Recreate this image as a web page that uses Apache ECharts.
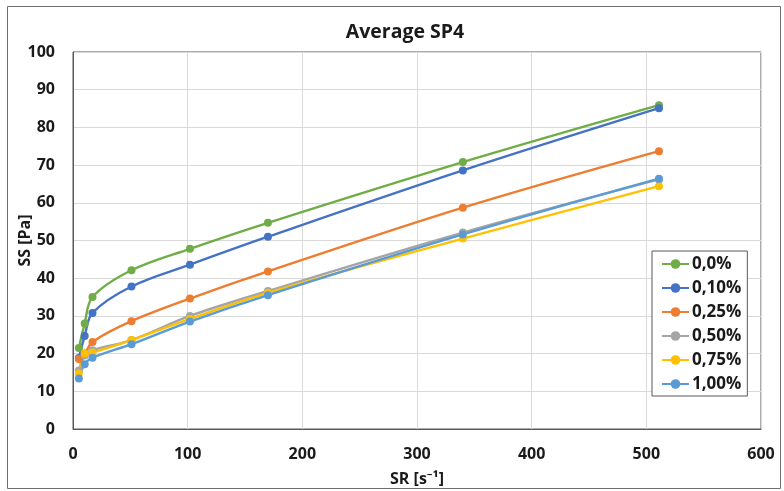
<!DOCTYPE html>
<html>
<head>
<meta charset="utf-8">
<script src="https://cdn.jsdelivr.net/npm/echarts@6/dist/echarts.min.js"></script>
<style>
  html, body { margin: 0; padding: 0; background: #fff; }
  #chart { width: 784px; height: 491px; }
</style>
</head>
<body>
<div id="chart"></div>
<script>
// Shear rate (s^-1) at each measuring point
const shearRate = [5.1, 10.2, 17, 51, 102, 170, 340, 511];

// Average shear stress (Pa) for each additive concentration
const ss_0_0 = [21.5, 28.0, 35.0, 42.1, 47.8, 54.7, 70.8, 85.9];
const ss_0_10 = [18.8, 24.7, 30.8, 37.8, 43.6, 51.0, 68.6, 85.1];
const ss_0_25 = [18.6, 20.0, 23.1, 28.6, 34.6, 41.8, 58.7, 73.7];
const ss_0_50 = [15.5, 19.5, 20.9, 23.6, 30.0, 36.6, 52.1, 66.2];
const ss_0_75 = [14.7, 20.0, 20.3, 23.6, 29.2, 36.1, 50.5, 64.4];
const ss_1_00 = [13.4, 17.2, 18.9, 22.5, 28.5, 35.5, 51.6, 66.4];

const seriesNames = ['0,0%', '0,10%', '0,25%', '0,50%', '0,75%', '1,00%'];
const seriesValues = [ss_0_0, ss_0_10, ss_0_25, ss_0_50, ss_0_75, ss_1_00];
const seriesColors = ['#70ad47', '#4472c4', '#ed7d31', '#a5a5a5', '#ffc000', '#5b9bd5'];

const FONT = '"Open Sans", "Noto Sans", sans-serif';
const TXT = '#1a1a1a';

const chart = echarts.init(document.getElementById('chart'), null, { renderer: 'canvas' });

chart.setOption({
  animation: false,
  backgroundColor: '#ffffff',
  title: {
    text: 'Average SP4',
    left: 400,
    top: 17,
    textAlign: 'center',
    textStyle: { fontFamily: FONT, fontWeight: 'bold', fontSize: 19.5, color: TXT }
  },
  graphic: [{
    type: 'rect',
    shape: { x: 7.5, y: 6.5, width: 773, height: 482 },
    style: { fill: 'none', stroke: '#6f6f6f', lineWidth: 1 },
    silent: true
  }],
  grid: {
    left: 73, right: 23, top: 52, bottom: 62,
    outerBoundsMode: 'none',
    containLabel: false,
    show: true, borderColor: '#595959', borderWidth: 1
  },
  legend: {
    orient: 'vertical',
    left: 652, top: 251,
    padding: [4, 6, 3, 9],
    borderColor: '#595959', borderWidth: 1,
    backgroundColor: '#fff',
    itemWidth: 27, itemHeight: 12, itemGap: 6,
    textStyle: { fontFamily: FONT, fontWeight: 'bold', fontSize: 17, lineHeight: 18, color: TXT, padding: [0, 0, 0, -2] },
    data: seriesNames
  },
  xAxis: {
    type: 'value',
    min: 0, max: 600, interval: 100,
    name: 'SR [s\u207B\u00B9]',
    nameLocation: 'middle',
    nameGap: 42,
    nameTextStyle: { fontFamily: FONT, fontWeight: 'bold', fontSize: 16, color: TXT },
    axisLine: { show: true, lineStyle: { color: '#595959' } },
    axisTick: { show: false },
    axisLabel: { fontFamily: FONT, fontWeight: 'bold', fontSize: 16, color: TXT, margin: 17 },
    splitLine: { show: true, lineStyle: { color: '#d9d9d9' } }
  },
  yAxis: {
    type: 'value',
    min: 0, max: 100, interval: 10,
    name: 'SS [Pa]',
    nameLocation: 'middle',
    nameMoveOverlap: false,
    nameGap: 40,
    nameTextStyle: { fontFamily: FONT, fontWeight: 'bold', fontSize: 16, color: TXT },
    axisLine: { show: true, lineStyle: { color: '#595959' } },
    axisTick: { show: false },
    axisLabel: { fontFamily: FONT, fontWeight: 'bold', fontSize: 16, color: TXT, margin: 18 },
    splitLine: { show: true, lineStyle: { color: '#d9d9d9' } }
  },
  series: seriesNames.map((name, i) => ({
    name: name,
    type: 'line',
    smooth: 0.35,
    symbol: 'circle',
    symbolSize: 8,
    color: seriesColors[i],
    lineStyle: { width: 2.4, color: seriesColors[i] },
    itemStyle: { color: seriesColors[i] },
    data: shearRate.map((x, k) => [x, seriesValues[i][k]])
  }))
});
</script>
</body>
</html>
